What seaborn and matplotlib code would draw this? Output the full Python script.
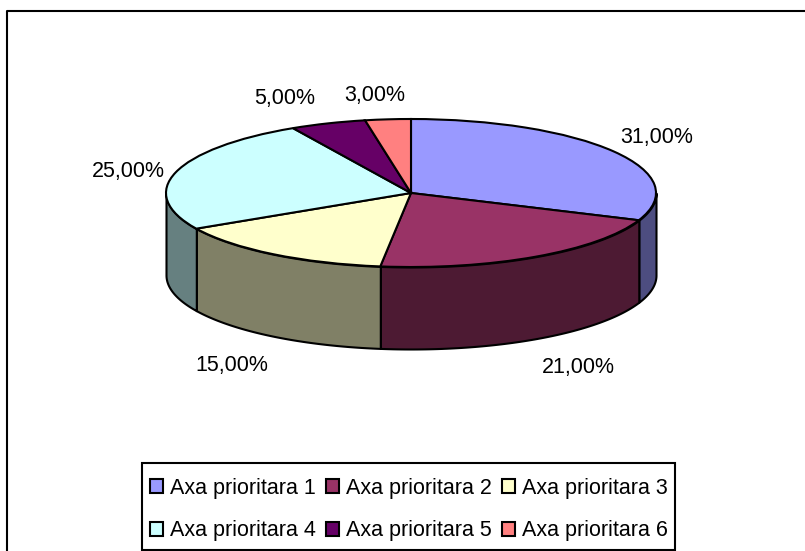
import matplotlib
matplotlib.use("Agg")
import matplotlib.pyplot as plt
from matplotlib.lines import Line2D
from matplotlib.patches import Patch, Rectangle
import numpy as np
import seaborn as sns

# data
categories = ["Axa prioritara 1", "Axa prioritara 2", "Axa prioritara 3",
              "Axa prioritara 4", "Axa prioritara 5", "Axa prioritara 6"]
shares = [31, 21, 15, 25, 5, 3]
colors = ["#9999FF", "#993366", "#FFFFCC", "#CCFFFF", "#660066", "#FF8080"]

W, H = 805, 551

sns.set_theme(style="white")
plt.rcParams["font.family"] = ["Liberation Sans", "DejaVu Sans"]
palette = sns.color_palette(colors)

fig = plt.figure(figsize=(W / 100, H / 100), dpi=100, facecolor="white")

# outer frame, only left and top fall inside the picture
fig.add_artist(Line2D([6.5 / W, 6.5 / W, 1], [0, 1 - 10.5 / H, 1 - 10.5 / H],
                      color="black", lw=1.5, transform=fig.transFigure))

# pie axes: one data unit is the radius of the squashed ellipse
cx, cy, rx, ry, depth_px = 411, 193, 245, 74, 82
ax = fig.add_axes([(cx - rx) / W, 1 - (cy + ry) / H, 2 * rx / W, 2 * ry / H])
depth = depth_px / ry

# side wall, front half only
edges = 90 - np.cumsum([0] + shares) * 3.6
for i, col in enumerate(palette):
    hi, lo = edges[i], edges[i + 1]
    a = max(lo, -180)
    b = min(hi, 0)
    if b <= a:
        continue
    t = np.radians(np.linspace(a, b, 80))
    dark = tuple(c * 0.5 for c in col)
    ax.fill_between(np.cos(t), np.sin(t), np.sin(t) - depth, color=dark,
                    edgecolor="black", lw=1.5, clip_on=False, zorder=1)

wedges, _ = ax.pie(shares, colors=palette, startangle=90, counterclock=False,
                   radius=1, wedgeprops={"edgecolor": "black", "lw": 1.5, "clip_on": False})
for w in wedges:
    w.set_zorder(2)
ax.set_aspect("auto")
ax.set_xlim(-1, 1)
ax.set_ylim(-1, 1)
ax.axis("off")

# percent labels, centres in picture pixels
label_pos = [(657, 138), (578, 368), (232, 366), (128, 171), (285, 99), (375, 96)]
for v, (x, y) in zip(shares, label_pos):
    fig.text(x / W, 1 - y / H, f"{v:.2f}%".replace(".", ","), fontsize=15.5,
             color="black", ha="center", va="center")

# legend box
fig.add_artist(Rectangle((142 / W, 1 - 550 / H), 533 / W, 87 / H, facecolor="white",
                         edgecolor="black", lw=1.5, transform=fig.transFigure))

# legend, filled row by row
order = [0, 3, 1, 4, 2, 5]
handles = [Patch(facecolor=palette[i], edgecolor="black", lw=1.5) for i in order]
labels = [categories[i] for i in order]
leg = fig.legend(handles, labels, ncol=3, loc="center left",
                 bbox_to_anchor=(150 / W, 1 - 509.5 / H), fontsize=15.5,
                 frameon=False, labelcolor="black",
                 handlelength=0.62, handleheight=0.62, handletextpad=0.33,
                 columnspacing=0.45, labelspacing=1.02, borderpad=0, borderaxespad=0)
leg.set_zorder(5)

fig.savefig("out.png", dpi=100)
